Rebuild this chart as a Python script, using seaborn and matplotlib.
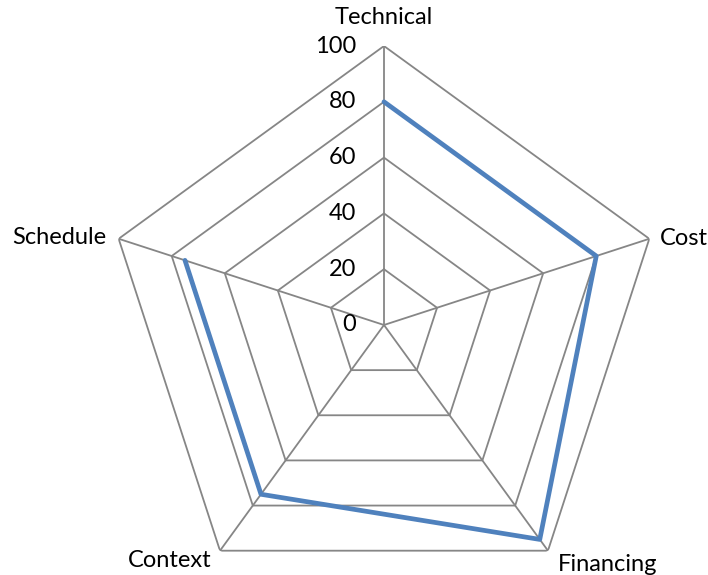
import numpy as np
import pandas as pd
import matplotlib
matplotlib.use("Agg")
import matplotlib.pyplot as plt
import seaborn as sns

# data
categories = ["Technical", "Cost", "Financing", "Context", "Schedule"]
scores = [80, 80, 95, 75, 75]
ring_levels = [0, 20, 40, 60, 80, 100]

sns.set_style("white")
plt.rcParams["font.family"] = ["Lato", "DejaVu Sans"]

fig = plt.figure(figsize=(7.08, 5.75), dpi=100)
ax = fig.add_axes([0.1483, -0.0504, 0.7881, 0.9704], projection="polar")
ax.set_theta_offset(np.pi / 2)
ax.set_theta_direction(-1)
ax.set_ylim(0, 100)
ax.grid(False)
ax.spines["polar"].set_visible(False)
ax.set_xticks([])
ax.set_yticks([])
ax.patch.set_alpha(0)

n = len(categories)
angles = np.linspace(0, 2 * np.pi, n, endpoint=False)
closed = np.append(angles, angles[0])

grid_col = "#868686"
# pentagon rings
for lv in ring_levels[1:]:
    ax.plot(closed, [lv] * (n + 1), color=grid_col, lw=1.3, zorder=1)
# spokes
for a in angles:
    ax.plot([a, a], [0, 100], color=grid_col, lw=1.3, zorder=1)

# data line
df = pd.DataFrame({"angle": closed, "score": scores + [scores[0]]})
sns.lineplot(data=df, x="angle", y="score", sort=False, ax=ax,
             color="#4F81BD", lw=3.4, zorder=3)
ax.set_xlabel("")
ax.set_ylabel("")

# ring labels
for lv in ring_levels:
    ax.annotate(str(lv), xy=(0, lv), xytext=(-28, 0), textcoords="offset pixels",
                ha="right", va="center", fontsize=17, color="black")

# category labels
offsets = [((0, 29), "center"), ((11, 0), "left"), ((10, -14), "left"),
           ((-8, -10), "right"), ((-12, 1), "right")]
for cat, a, (off, ha) in zip(categories, angles, offsets):
    ax.annotate(cat, xy=(a, 100), xytext=off, textcoords="offset pixels",
                ha=ha, va="center", fontsize=17, color="black",
                annotation_clip=False)

fig.savefig("out.png", dpi=100)
